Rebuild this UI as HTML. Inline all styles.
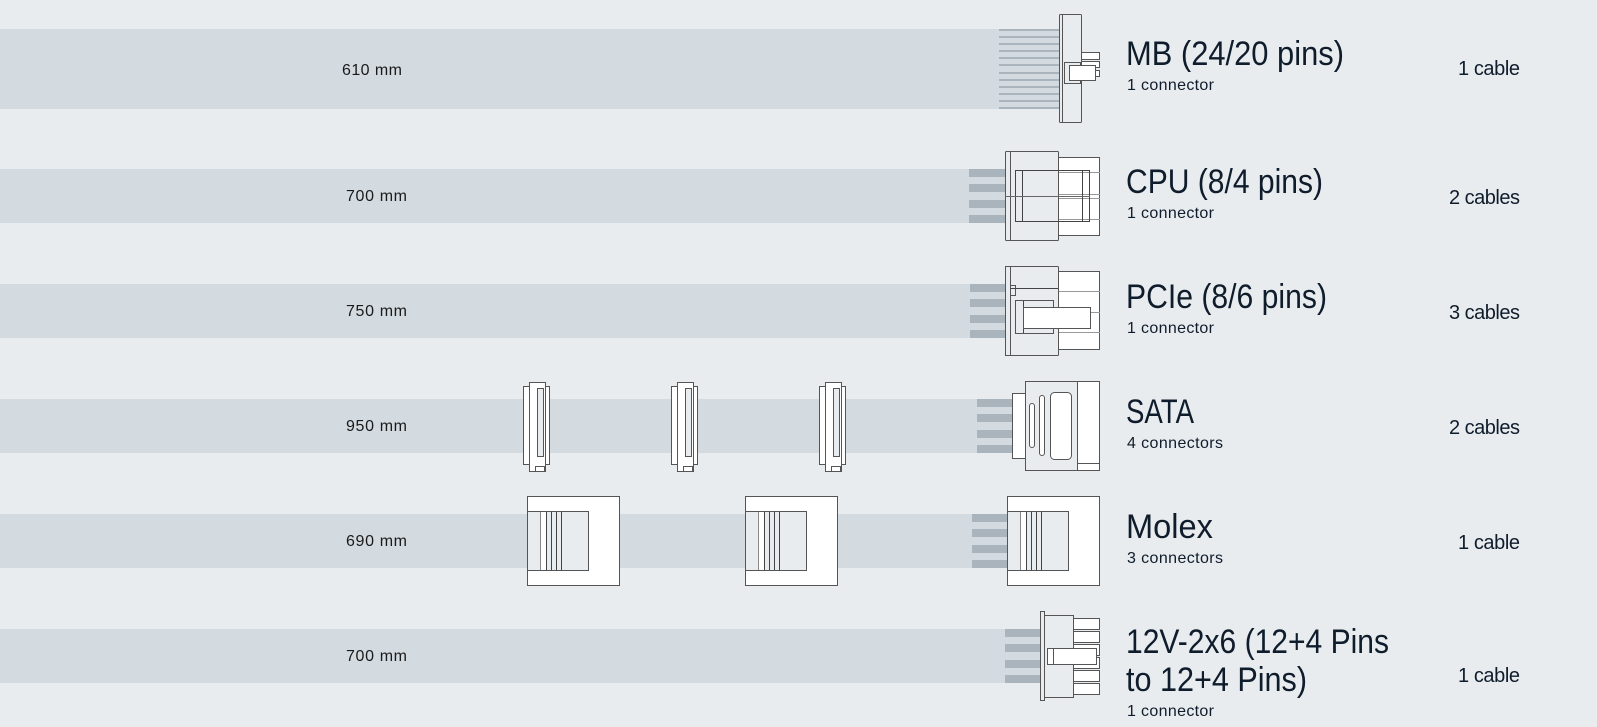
<!DOCTYPE html>
<html><head><meta charset="utf-8"><style>
html,body{margin:0;padding:0;background:#e9ecef;}
svg{display:block}
text{font-family:"Liberation Sans",sans-serif;fill:#0f1c2b}
.h{font-size:34px}
.s{font-size:16px}
.c{font-size:20px}
.m{font-size:16px;fill:#1a1a1a}
.o{fill:#fff;stroke:#555;stroke-width:1}
.g{fill:#e9ecef;stroke:#555;stroke-width:1}
.st{fill:#aab4bd}
</style></head><body>
<svg width="1597" height="727" viewBox="0 0 1597 727" xmlns="http://www.w3.org/2000/svg">
<rect width="1597" height="727" fill="#e9ecef"/>
<rect x="0" y="29" width="1059" height="80" fill="#d3dae0"/>
<rect x="0" y="169" width="1005" height="54" fill="#d3dae0"/>
<rect x="0" y="284" width="1005" height="54" fill="#d3dae0"/>
<rect x="0" y="399" width="1013" height="54" fill="#d3dae0"/>
<rect x="0" y="514" width="1007" height="54" fill="#d3dae0"/>
<rect x="0" y="629" width="1040" height="54" fill="#d3dae0"/>

<text class="m" x="342" y="75" textLength="60">610 mm</text>
<text class="m" x="346" y="201" textLength="61">700 mm</text>
<text class="m" x="346" y="316" textLength="61">750 mm</text>
<text class="m" x="346" y="431" textLength="61">950 mm</text>
<text class="m" x="346" y="546" textLength="61">690 mm</text>
<text class="m" x="346" y="661" textLength="61">700 mm</text>

<g fill="#aab4bd">
<rect x="999" y="29" width="60" height="2"/><rect x="999" y="36" width="60" height="2"/>
<rect x="999" y="43" width="60" height="2"/><rect x="999" y="50" width="60" height="2"/>
<rect x="999" y="57" width="60" height="2"/><rect x="999" y="64" width="60" height="2"/>
<rect x="999" y="72" width="60" height="2"/><rect x="999" y="79" width="60" height="2"/>
<rect x="999" y="86" width="60" height="2"/><rect x="999" y="93" width="60" height="2"/>
<rect x="999" y="100" width="60" height="2"/><rect x="999" y="107" width="60" height="2"/>
</g>
<rect class="g" x="1059.5" y="14.5" width="22" height="108" rx="1"/>
<line x1="1062.5" y1="15" x2="1062.5" y2="122" stroke="#555"/>
<rect class="o" x="1081.5" y="52.5" width="18" height="7"/>
<rect class="o" x="1081.5" y="61.5" width="18" height="6"/>
<rect class="o" x="1081.5" y="70.5" width="18" height="6"/>
<rect class="g" x="1064.5" y="62.5" width="16" height="21"/>
<rect class="o" x="1069.5" y="65.5" width="26" height="15"/>

<rect class="st" x="969" y="169" width="36" height="8"/><rect class="st" x="969" y="184" width="36" height="8"/>
<rect class="st" x="969" y="200" width="36" height="8"/><rect class="st" x="969" y="215" width="36" height="8"/>
<rect class="o" x="1058.5" y="157.5" width="41" height="78"/>
<line x1="1058" y1="172.5" x2="1100" y2="172.5" stroke="#999"/>
<line x1="1058" y1="194.5" x2="1100" y2="194.5" stroke="#999"/>
<line x1="1058" y1="198.5" x2="1100" y2="198.5" stroke="#999"/>
<line x1="1058" y1="219.5" x2="1100" y2="219.5" stroke="#999"/>
<rect class="g" x="1005.5" y="151.5" width="53" height="89" rx="1"/>
<line x1="1010.5" y1="152" x2="1010.5" y2="240" stroke="#555"/>
<rect x="1015.5" y="170.5" width="74" height="51" fill="none" stroke="#444"/>
<line x1="1022.5" y1="171" x2="1022.5" y2="221" stroke="#444"/>
<line x1="1082.5" y1="171" x2="1082.5" y2="221" stroke="#444"/>
<line x1="1005" y1="196.5" x2="1090" y2="196.5" stroke="#666"/>

<rect class="st" x="970" y="284" width="35" height="8"/><rect class="st" x="970" y="299" width="35" height="8"/>
<rect class="st" x="970" y="315" width="35" height="8"/><rect class="st" x="970" y="330" width="35" height="8"/>
<rect class="o" x="1058.5" y="271.5" width="41" height="78"/>
<line x1="1058" y1="291.5" x2="1100" y2="291.5" stroke="#999"/>
<line x1="1058" y1="312.5" x2="1100" y2="312.5" stroke="#999"/>
<line x1="1058" y1="332.5" x2="1100" y2="332.5" stroke="#999"/>
<rect class="g" x="1005.5" y="266.5" width="53" height="89" rx="1"/>
<rect class="g" x="1005.5" y="266.5" width="5" height="89"/>
<rect class="g" x="1010.5" y="285.5" width="5" height="10"/>
<line x1="1010" y1="288.5" x2="1058" y2="288.5" stroke="#444"/>
<rect class="g" x="1015.5" y="300.5" width="38" height="33"/>
<line x1="1023.5" y1="301" x2="1023.5" y2="333" stroke="#444"/>
<rect class="o" x="1023.5" y="307.5" width="67" height="21"/>

<g id="sata">
<rect class="o" x="523.5" y="386.5" width="26" height="78"/>
<rect class="o" x="529.5" y="382.5" width="16" height="89"/>
<rect class="o" x="535.5" y="466.5" width="9" height="5"/>
<rect class="g" x="537.5" y="388.5" width="6" height="68"/>
</g>
<use href="#sata" x="148"/>
<use href="#sata" x="296"/>
<rect class="st" x="977" y="399" width="36" height="8"/><rect class="st" x="977" y="414" width="36" height="8"/>
<rect class="st" x="977" y="430" width="36" height="8"/><rect class="st" x="977" y="445" width="36" height="8"/>
<rect class="o" x="1012.5" y="393.5" width="13" height="65"/>
<rect class="g" x="1025.5" y="381.5" width="74" height="89"/>
<rect class="o" x="1077.5" y="381.5" width="22" height="89"/>
<line x1="1077" y1="463.5" x2="1100" y2="463.5" stroke="#555"/>
<rect class="o" x="1029.5" y="403.5" width="5" height="44" rx="2.5"/>
<rect class="o" x="1039.5" y="395.5" width="5" height="60" rx="2.5"/>
<rect class="o" x="1050.5" y="392.5" width="21" height="67" rx="4"/>

<g id="mol">
<rect class="o" x="527.5" y="496.5" width="92" height="89"/>
<rect class="g" x="527.5" y="511.5" width="61" height="59"/>
<rect x="541" y="512" width="5" height="58" fill="#fff"/>
<line x1="540.5" y1="512" x2="540.5" y2="570" stroke="#888"/>
<line x1="546.5" y1="512" x2="546.5" y2="570" stroke="#444"/>
<line x1="551.5" y1="512" x2="551.5" y2="570" stroke="#444"/>
<line x1="556.5" y1="512" x2="556.5" y2="570" stroke="#444"/>
<line x1="561.5" y1="512" x2="561.5" y2="570" stroke="#444"/>
</g>
<use href="#mol" x="218"/>
<rect class="st" x="972" y="514" width="35" height="8"/><rect class="st" x="972" y="529" width="35" height="8"/>
<rect class="st" x="972" y="545" width="35" height="8"/><rect class="st" x="972" y="560" width="35" height="8"/>
<use href="#mol" x="480"/>

<rect class="st" x="1005" y="629" width="35" height="8"/><rect class="st" x="1005" y="644" width="35" height="8"/>
<rect class="st" x="1005" y="660" width="35" height="8"/><rect class="st" x="1005" y="675" width="35" height="8"/>
<rect class="o" x="1073.5" y="618.5" width="26" height="11"/>
<rect class="o" x="1073.5" y="631.5" width="26" height="11"/>
<rect class="o" x="1073.5" y="644.5" width="26" height="11"/>
<rect class="o" x="1073.5" y="657.5" width="26" height="11"/>
<rect class="o" x="1073.5" y="670.5" width="26" height="11"/>
<rect class="o" x="1073.5" y="683.5" width="26" height="11"/>
<rect class="g" x="1044.5" y="615.5" width="29" height="82"/>
<rect class="g" x="1040.5" y="611.5" width="4" height="89"/>
<rect class="o" x="1047.5" y="648.5" width="49" height="16"/>
<line x1="1053.5" y1="649" x2="1053.5" y2="664" stroke="#555"/>

<text class="h" x="1126" y="65" textLength="218" lengthAdjust="spacingAndGlyphs">MB (24/20 pins)</text>
<text class="s" x="1127" y="90" textLength="87">1 connector</text>
<text class="c" x="1458" y="75" textLength="62">1 cable</text>

<text class="h" x="1126" y="193" textLength="197" lengthAdjust="spacingAndGlyphs">CPU (8/4 pins)</text>
<text class="s" x="1127" y="218" textLength="87">1 connector</text>
<text class="c" x="1449" y="204" textLength="71">2 cables</text>

<text class="h" x="1126" y="308" textLength="201" lengthAdjust="spacingAndGlyphs">PCIe (8/6 pins)</text>
<text class="s" x="1127" y="333" textLength="87">1 connector</text>
<text class="c" x="1449" y="319" textLength="71">3 cables</text>

<text class="h" x="1126" y="423" textLength="68" lengthAdjust="spacingAndGlyphs">SATA</text>
<text class="s" x="1127" y="448" textLength="96">4 connectors</text>
<text class="c" x="1449" y="434" textLength="71">2 cables</text>

<text class="h" x="1126" y="538" textLength="87" lengthAdjust="spacingAndGlyphs">Molex</text>
<text class="s" x="1127" y="563" textLength="96">3 connectors</text>
<text class="c" x="1458" y="549" textLength="62">1 cable</text>

<text class="h" x="1126" y="653" textLength="263" lengthAdjust="spacingAndGlyphs">12V-2x6 (12+4 Pins</text>
<text class="h" x="1126" y="691" textLength="181" lengthAdjust="spacingAndGlyphs">to 12+4 Pins)</text>
<text class="s" x="1127" y="716" textLength="87">1 connector</text>
<text class="c" x="1458" y="682" textLength="62">1 cable</text>
</svg>
</body></html>
